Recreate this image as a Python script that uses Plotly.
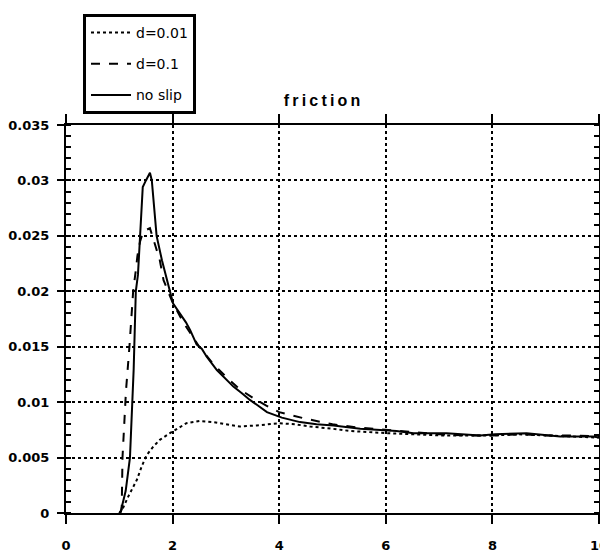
import plotly.graph_objects as go

# ---- data ----
x_d001 = [1.0, 1.045, 1.17, 1.33, 1.42, 1.51, 1.64, 1.76, 1.95, 2.08, 2.26, 2.51, 2.76,
          3.0, 3.26, 3.58, 4.01, 4.3, 4.58, 5.0, 5.33, 6.02, 6.5, 7.0, 7.5, 8.0, 8.5,
          9.0, 9.5, 10.0]
y_d001 = [0.0, 0.0002, 0.0015, 0.0030, 0.0042, 0.0052, 0.0060, 0.0066, 0.0072, 0.0076,
          0.0081, 0.0083, 0.0082, 0.0080, 0.0078, 0.0079, 0.0081, 0.0080, 0.0078, 0.0076,
          0.0074, 0.0072, 0.0071, 0.0070, 0.0070, 0.0070, 0.0071, 0.0070, 0.0069, 0.0068]

x_d01 = [1.0, 1.045, 1.06, 1.11, 1.125, 1.19, 1.26, 1.31, 1.34, 1.39, 1.45, 1.575,
         1.64, 1.76, 1.83, 1.92, 2.0, 2.2, 2.5, 2.75, 3.0, 3.25, 3.5, 3.75, 4.0, 4.5,
         5.0, 5.5, 6.0, 6.5, 7.0, 7.5, 8.0, 8.5, 9.0, 9.5, 10.0]
y_d01 = [0.0, 0.0003, 0.0050, 0.0100, 0.0110, 0.0150, 0.0200, 0.0219, 0.0232, 0.0245,
         0.0254, 0.0257, 0.0246, 0.0228, 0.0210, 0.0200, 0.0190, 0.0172, 0.0150, 0.0135,
         0.0123, 0.0112, 0.0104, 0.0097, 0.0091, 0.0085, 0.0080, 0.0077, 0.0075, 0.0073,
         0.0071, 0.0070, 0.0070, 0.0071, 0.0070, 0.0070, 0.0069]

x_noslip = [1.02, 1.12, 1.2, 1.245, 1.27, 1.31, 1.35, 1.39, 1.44, 1.5, 1.575, 1.61,
            1.70, 1.80, 1.89, 1.95, 2.01, 2.14, 2.25, 2.33, 2.45, 2.55, 2.64, 2.83,
            3.0, 3.14, 3.3, 3.45, 3.6, 3.77, 4.05, 4.39, 4.7, 5.02, 5.52, 5.89, 6.2,
            6.52, 7.14, 7.77, 8.05, 8.64, 9.27, 9.89, 10.0]
y_noslip = [0.0, 0.0020, 0.0050, 0.0100, 0.0130, 0.0200, 0.0215, 0.0250, 0.0294, 0.0300,
            0.0307, 0.0300, 0.0250, 0.0228, 0.0210, 0.0200, 0.0189, 0.0180, 0.0172,
            0.0165, 0.0152, 0.0148, 0.0141, 0.0129, 0.0121, 0.0114, 0.0108, 0.0102,
            0.0097, 0.0091, 0.0086, 0.0082, 0.0080, 0.0079, 0.0076, 0.0075, 0.0074,
            0.0072, 0.0072, 0.0070, 0.0071, 0.0072, 0.0069, 0.0069, 0.0068]

series_names = ["d=0.01", "d=0.1", "no slip"]
x_ticks = [0, 2, 4, 6, 8, 10]
y_ticks = [0, 0.005, 0.01, 0.015, 0.02, 0.025, 0.03, 0.035]
y_tick_labels = ["0", "0.005", "0.01", "0.015", "0.02", "0.025", "0.03", "0.035"]
title_text = "f\u2009r\u2009i\u2009c\u2009t\u2009i\u2009o\u2009n"

fig = go.Figure()
styles = ["dot", "dash", "solid"]
data = [(x_d001, y_d001), (x_d01, y_d01), (x_noslip, y_noslip)]
for i, (name, dash, (xs, ys)) in enumerate(zip(series_names, styles, data)):
    fig.add_trace(go.Scatter(
        x=xs, y=ys, mode="lines", name=name, legendgroup=f"g{i}",
        line=dict(color="black", width=2, dash=dash),
    ))

tick_font = dict(family="DejaVu Sans", size=13, color="black", weight="bold")

# page body has an 8px margin, so the figure is 8px smaller and offset
W, H = 600, 548
fig.update_layout(
    width=W, height=H,
    margin=dict(l=58, r=9, t=117, b=43, autoexpand=False),
    paper_bgcolor="white", plot_bgcolor="white",
    title=dict(text=title_text, x=314 / W, xanchor="center", xref="container",
               y=1 - 92 / H, yanchor="middle", yref="container",
               font=dict(family="Liberation Sans", size=16, color="black", weight="bold")),
    showlegend=True,
    legend=dict(x=(83 - 66) / 533, y=(513 - 14) / 388, xanchor="left", yanchor="top",
                bordercolor="black", borderwidth=3, bgcolor="white",
                font=dict(family="DejaVu Sans", size=14, color="black"),
                traceorder="grouped", tracegroupgap=10, itemwidth=40),
    xaxis=dict(range=[0, 10], tickvals=x_ticks, ticktext=[str(v) for v in x_ticks],
               showline=True, linecolor="black", linewidth=2, mirror="ticks",
               ticks="outside", ticklen=9, tickwidth=2, tickcolor="black",
               ticklabelstandoff=10, tickfont=tick_font, automargin=False,
               ticklabeloverflow="allow",
               showgrid=True, gridcolor="black", gridwidth=2, griddash="dot",
               zeroline=False),
    yaxis=dict(range=[0, 0.035], tickvals=y_ticks, ticktext=y_tick_labels,
               showline=True, linecolor="black", linewidth=2, mirror="ticks",
               ticks="outside", ticklen=7, tickwidth=2, tickcolor="black",
               ticklabelstandoff=5, tickfont=tick_font, automargin=False,
               ticklabeloverflow="allow",
               showgrid=True, gridcolor="black", gridwidth=2, griddash="dot",
               zeroline=False,
               minor=dict(dtick=0.001, ticks="inside", ticklen=5, tickwidth=1.5,
                          tickcolor="black", showgrid=False)),
)

fig.write_html("out.html")
